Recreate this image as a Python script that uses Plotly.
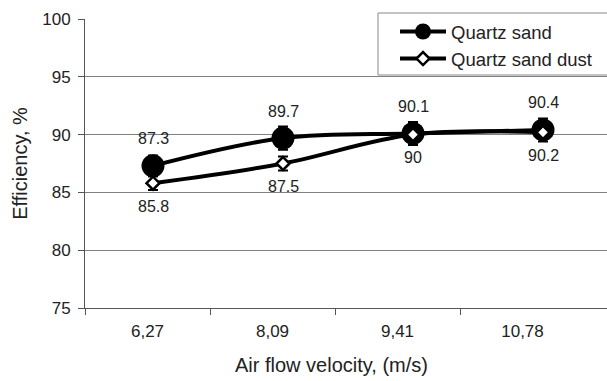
import plotly.graph_objects as go

categories = ["6,27", "8,09", "9,41", "10,78"]
sand = [87.3, 89.7, 90.1, 90.4]
sand_err = [0.9, 1.0, 1.0, 1.0]
dust = [85.8, 87.5, 90.0, 90.2]
dust_err = [0.6, 0.6, 0.5, 0.5]
y_ticks = [75, 80, 85, 90, 95, 100]

idx = list(range(len(categories)))
bounds = [i - 0.5 for i in idx]
AX = "#555555"
GRID = "#808080"
TXT = "#222222"
FONT = "Liberation Sans, Arial, sans-serif"

L, R, T, B = 85, 0, 19, 73
PW = 607 - L - R
PH = 381 - T - B
label_range = [-0.5, -0.5 + PW / 125]
data_range = [-68 / 130, -68 / 130 + PW / 130]

fig = go.Figure()
# invisible helpers so the label / tick axes are drawn
for ax in ("x2", "x3"):
    fig.add_trace(go.Scatter(x=idx, y=[None] * len(idx), xaxis=ax, yaxis="y",
                             mode="lines", showlegend=False, hoverinfo="skip"))

fig.add_trace(go.Scatter(
    x=idx, y=sand, xaxis="x", yaxis="y", name="Quartz sand",
    mode="lines+markers",
    line=dict(color="black", width=4, shape="spline", smoothing=1),
    marker=dict(symbol="circle", size=23, color="black"),
    error_y=dict(type="data", array=sand_err, visible=True, color="black", thickness=2, width=5),
))
fig.add_trace(go.Scatter(
    x=idx, y=dust, xaxis="x", yaxis="y", name="Quartz sand dust",
    mode="lines+markers",
    line=dict(color="black", width=4, shape="spline", smoothing=1),
    marker=dict(symbol="diamond", size=10, color="white", line=dict(color="black", width=2.5)),
    error_y=dict(type="data", array=dust_err, visible=True, color="black", thickness=2, width=5),
))

ann = []
for i, v in zip(idx, sand):
    ann.append(dict(x=i, y=v, xref="x", yref="y", text=f"{v:g}", showarrow=False,
                    yshift=27, font=dict(size=16, color=TXT, family=FONT)))
for i, v in zip(idx, dust):
    ann.append(dict(x=i, y=v, xref="x", yref="y", text=f"{v:g}", showarrow=False,
                    yshift=-23, font=dict(size=16, color=TXT, family=FONT)))
ann.append(dict(x=(331 - L) / PW, y=(308 - 365) / PH, xref="paper", yref="paper",
                text="Air flow velocity, (m/s)", showarrow=False, yanchor="middle",
                font=dict(size=20, color=TXT, family=FONT)))

shapes = [dict(type="rect", xref="paper", yref="paper",
               x0=(378 - L) / PW, x1=(640 - L) / PW,
               y0=(308 - 75) / PH, y1=(308 - 13) / PH,
               line=dict(color="#888888", width=1), fillcolor="white", layer="above")]

fig.update_layout(
    width=607, height=381,
    margin=dict(l=L, r=R, t=T, b=B),
    paper_bgcolor="white", plot_bgcolor="white",
    font=dict(family=FONT, color=TXT),
    xaxis=dict(
        type="linear", range=data_range, showticklabels=False, ticks="",
        showline=True, linecolor=AX, linewidth=1, showgrid=False, zeroline=False,
    ),
    xaxis2=dict(
        type="linear", overlaying="x", anchor="y", range=label_range,
        tickmode="array", tickvals=idx, ticktext=categories, ticks="",
        tickfont=dict(size=17, color=TXT), ticklabelstandoff=11,
        showline=False, showgrid=False, zeroline=False, side="bottom",
    ),
    xaxis3=dict(
        type="linear", overlaying="x", anchor="y", range=label_range,
        tickmode="array", tickvals=bounds, ticks="outside", ticklen=6,
        tickcolor=AX, tickwidth=1, showticklabels=False,
        showline=False, showgrid=False, zeroline=False, side="bottom",
    ),
    yaxis=dict(
        range=[75, 100], tickmode="array", tickvals=y_ticks,
        ticks="outside", ticklen=6, tickcolor=AX, tickwidth=1,
        tickfont=dict(size=17, color=TXT), ticklabelstandoff=4,
        showline=True, linecolor=AX, linewidth=1,
        showgrid=True, gridcolor=GRID, gridwidth=1, zeroline=False,
        title=dict(text="Efficiency, %", font=dict(size=20, color=TXT, family=FONT), standoff=9),
    ),
    legend=dict(
        x=(395 - L) / PW, y=(308 - 13) / PH, xanchor="left", yanchor="top",
        bgcolor="rgba(0,0,0,0)", borderwidth=0,
        font=dict(size=18.5, color=TXT, family=FONT), itemwidth=46,
        tracegroupgap=0,
    ),
    annotations=ann,
    shapes=shapes,
)

fig.write_html("out.html")
